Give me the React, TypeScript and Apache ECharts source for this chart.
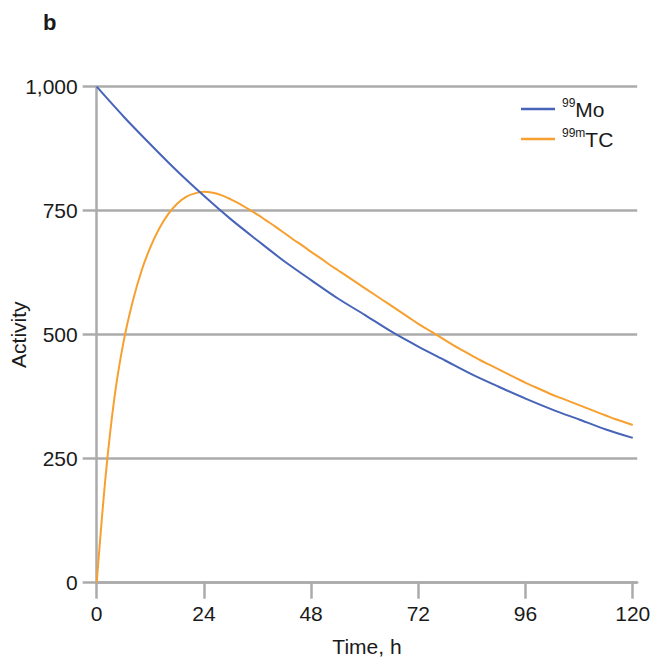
import React, { useEffect, useRef } from "react";
import * as echarts from "echarts";

// Time (h) sample points and activities
const moTimes = [0, 6, 12, 18, 24, 30, 36, 42, 48, 54, 60, 66, 72, 78, 84, 90, 96, 102, 108, 114, 120];
const moValues = [1000, 940, 884, 830, 780, 733, 690, 648, 610, 573, 540, 506, 476, 448, 420, 395, 371, 349, 329, 309, 292];

const tcTimes = [
  0, 2, 4, 6, 8, 10, 12, 14, 16, 18, 20, 22, 24, 26, 28, 30, 32, 34, 36, 38, 40,
  42, 44, 46, 48, 50, 52, 54, 56, 58, 60, 62, 64, 66, 68, 70, 72, 74, 76, 78, 80,
  82, 84, 86, 88, 90, 92, 94, 96, 98, 100, 102, 104, 106, 108, 110, 112, 114, 116, 118, 120,
];
const tcValues = [
  0, 215, 375, 485, 565, 628, 676, 714, 743, 764, 778, 785, 788, 786, 781, 773, 764, 753, 742, 730, 718,
  705, 692, 680, 667, 655, 642, 630, 618, 606, 594, 582, 570, 558, 546, 534, 522, 511, 500, 489, 478,
  468, 458, 448, 439, 430, 421, 412, 403, 395, 387, 379, 372, 365, 358, 351, 344, 337, 330, 324, 318,
];

const xTicks = [0, 24, 48, 72, 96, 120];
const yTicks = [0, 250, 500, 750, 1000];

const seriesNames = ["Mo", "TC"];
const seriesSup: Record<string, string> = { Mo: "99", TC: "99m" };

const FONT = "Liberation Sans, Arial, Helvetica, sans-serif";
const GRAY = "#ababab";
const TEXT = "#1a1a1a";

export default function App() {
  const ref = useRef<HTMLDivElement>(null);

  useEffect(() => {
    if (!ref.current) return;
    const chart = echarts.init(ref.current, undefined, { renderer: "svg" });
    const moData = moTimes.map((t, i) => [t, moValues[i]]);
    const tcData = tcTimes.map((t, i) => [t, tcValues[i]]);

    chart.setOption({
      animation: false,
      backgroundColor: "#ffffff",
      textStyle: { fontFamily: FONT },
      title: {
        text: "b",
        left: 38,
        top: 6,
        textStyle: { fontFamily: FONT, fontWeight: "bold", fontSize: 22, color: TEXT },
      },
      legend: {
        orient: "vertical",
        left: 521,
        top: 97,
        padding: 0,
        itemWidth: 34,
        itemHeight: 2.5,
        itemGap: 6,
        icon: "rect",
        data: seriesNames,
        formatter: (name: string) => `{sup|${seriesSup[name]}}{main|${name}}`,
        textStyle: {
          fontFamily: FONT,
          color: TEXT,
          lineHeight: 24,
          padding: [0, 0, 0, 2],
          rich: {
            sup: { fontSize: 12, fontFamily: FONT, color: TEXT, verticalAlign: "top", lineHeight: 14 },
            main: { fontSize: 21, fontFamily: FONT, color: TEXT, lineHeight: 24 },
          },
        },
      },
      grid: {
        left: 96.7,
        top: 86.7,
        right: 15.8,
        bottom: 80.3,
        containLabel: false,
        outerBoundsMode: "none",
      },
      xAxis: {
        type: "value",
        min: 0,
        max: 121,
        name: "Time, h",
        nameLocation: "middle",
        nameGap: 53,
        nameMoveOverlap: false,
        nameTextStyle: { fontFamily: FONT, fontSize: 21, color: TEXT },
        axisLine: { show: true, lineStyle: { color: GRAY, width: 2.5 } },
        axisTick: { show: true, length: 16, customValues: xTicks, lineStyle: { color: GRAY, width: 2.5 } },
        axisLabel: {
          customValues: xTicks,
          margin: 20,
          fontFamily: FONT,
          fontSize: 21,
          color: TEXT,
        },
        splitLine: { show: false },
      },
      yAxis: {
        type: "value",
        min: 0,
        max: 1000,
        interval: 250,
        name: "Activity",
        nameLocation: "middle",
        nameGap: 68,
        nameMoveOverlap: false,
        nameRotate: 90,
        nameTextStyle: { fontFamily: FONT, fontSize: 21, color: TEXT },
        axisLine: { show: true, lineStyle: { color: GRAY, width: 2.5 } },
        axisTick: { show: true, length: 14, lineStyle: { color: GRAY, width: 2.5 } },
        axisLabel: {
          margin: 19,
          fontFamily: FONT,
          fontSize: 21,
          color: TEXT,
          formatter: (v: number) => (yTicks.includes(v) ? v.toLocaleString("en-US") : ""),
        },
        splitLine: { show: true, lineStyle: { color: GRAY, width: 2.5 } },
      },
      series: [
        {
          name: "Mo",
          type: "line",
          data: moData,
          smooth: 0.3,
          showSymbol: false,
          symbol: "none",
          lineStyle: { color: "#4764b8", width: 2 },
          itemStyle: { color: "#4764b8" },
          z: 3,
        },
        {
          name: "TC",
          type: "line",
          data: tcData,
          smooth: 0.3,
          showSymbol: false,
          symbol: "none",
          lineStyle: { color: "#f7a030", width: 2 },
          itemStyle: { color: "#f7a030" },
          z: 2,
        },
      ],
    });
    return () => chart.dispose();
  }, []);

  return (
    <div
      ref={ref}
      style={{ position: "fixed", left: 0, top: 0, width: 653, height: 663, background: "#fff" }}
    />
  );
}
